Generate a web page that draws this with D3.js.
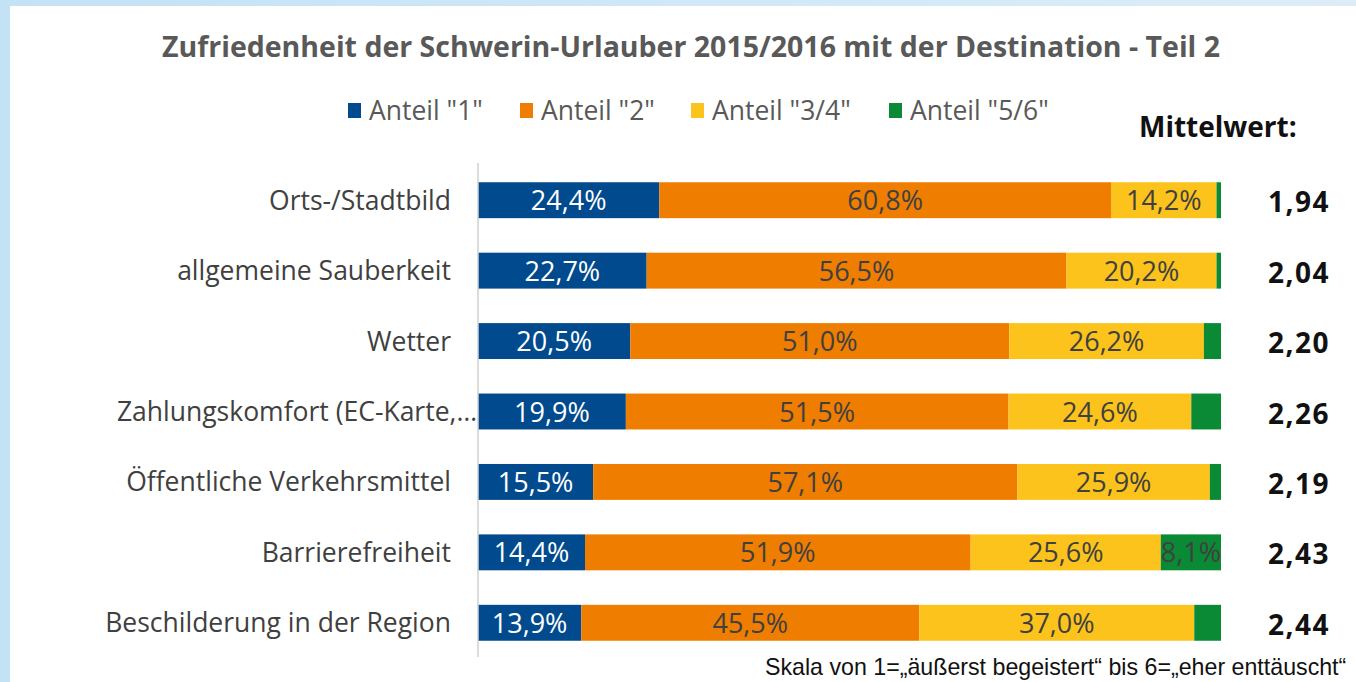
<!DOCTYPE html>
<html lang="de">
<head>
<meta charset="utf-8">
<script src="https://cdn.jsdelivr.net/npm/d3@7"></script>
<style>
  html, body { margin: 0; padding: 0; background: #fff; overflow: hidden; }
  svg { display: block; }
</style>
</head>
<body>
<svg id="chart" width="1356" height="682"></svg>
<script>
// Kategorien (von oben nach unten)
const categories = [
  "Orts-/Stadtbild",
  "allgemeine Sauberkeit",
  "Wetter",
  "Zahlungskomfort (EC-Karte,\u2026",
  "\u00d6ffentliche Verkehrsmittel",
  "Barrierefreiheit",
  "Beschilderung in der Region"
];

// Anteile in Prozent je Bewertungsgruppe
const anteil1  = [24.4, 22.7, 20.5, 19.9, 15.5, 14.4, 13.9];
const anteil2  = [60.8, 56.5, 51.0, 51.5, 57.1, 51.9, 45.5];
const anteil34 = [14.2, 20.2, 26.2, 24.6, 25.9, 25.6, 37.0];
const anteil56 = [0.6, 0.6, 2.3, 4.0, 1.5, 8.1, 3.6];

// Mittelwerte je Kategorie
const mittelwerte = ["1,94", "2,04", "2,20", "2,26", "2,19", "2,43", "2,44"];

const seriesNames = ['Anteil "1"', 'Anteil "2"', 'Anteil "3/4"', 'Anteil "5/6"'];
const seriesColors = ["#004a8d", "#ef7d00", "#fbc31c", "#0a8a35"];
const labelColors = ["#ffffff", "#404040", "#404040", "#404040"];

const title = "Zufriedenheit der Schwerin-Urlauber 2015/2016 mit der Destination - Teil 2";
const meanHeader = "Mittelwert:";
const footnote = "Skala von 1=\u201e\u00e4u\u00dferst begeistert\u201c bis 6=\u201eeher entt\u00e4uscht\u201c";

const fmt = v => v.toFixed(1).replace(".", ",") + "%";

const rows = categories.map((c, i) => ({
  cat: c,
  vals: [anteil1[i], anteil2[i], anteil34[i], anteil56[i]],
  mean: mittelwerte[i]
}));

const svg = d3.select("#chart");
const W = 1356, H = 682;
const FONT = "'Open Sans', Lato, sans-serif";

// Rahmen mit hellblauem Rand
const defs = svg.append("defs");
const grad = defs.append("linearGradient").attr("id", "frame").attr("x1", 0).attr("y1", 0).attr("x2", 1).attr("y2", 0);
grad.append("stop").attr("offset", "0%").attr("stop-color", "#c3e2f6");
grad.append("stop").attr("offset", "100%").attr("stop-color", "#dcedf8");
svg.append("rect").attr("width", W).attr("height", H).attr("fill", "url(#frame)");
svg.append("rect").attr("x", 10).attr("y", 6).attr("width", W - 10).attr("height", H - 6).attr("fill", "#ffffff");

const x = d3.scaleLinear().domain([0, 100]).range([478, 1221]);
const y = d3.scaleBand().domain(categories).range([165, 658]).paddingInner(0.49).paddingOuter(0.245);

// Titel
svg.append("text")
  .attr("x", 691).attr("y", 57)
  .attr("text-anchor", "middle")
  .attr("font-family", FONT)
  .attr("font-weight", 700)
  .attr("font-size", 28.5)
  .attr("fill", "#595959")
  .text(title);

// Legende
const legendX = [348, 520, 691, 889];
const legend = svg.append("g").selectAll("g")
  .data(seriesNames)
  .join("g")
  .attr("transform", (d, i) => `translate(${legendX[i]},0)`);
legend.append("rect")
  .attr("x", 0).attr("y", 103).attr("width", 13).attr("height", 15)
  .attr("fill", (d, i) => seriesColors[i]);
legend.append("text")
  .attr("x", 21).attr("y", 120)
  .attr("font-family", FONT)
  .attr("font-size", 26.5)
  .attr("fill", "#595959")
  .text(d => d);

// Überschrift Mittelwert
svg.append("text")
  .attr("x", 1139).attr("y", 137)
  .attr("font-family", FONT)
  .attr("font-weight", 700)
  .attr("font-size", 28)
  .attr("fill", "#111111")
  .text(meanHeader);

// Gestapelte Balken
const stack = rows.map(r => {
  let acc = 0;
  return r.vals.map((v, k) => {
    const seg = { cat: r.cat, k, v, x0: acc, x1: acc + v };
    acc += v;
    return seg;
  });
});

const barG = svg.append("g");
const rowG = barG.selectAll("g.row")
  .data(stack)
  .join("g")
  .attr("class", "row");

rowG.selectAll("rect")
  .data(d => d)
  .join("rect")
  .attr("x", d => x(d.x0))
  .attr("y", d => y(d.cat))
  .attr("width", d => x(d.x1) - x(d.x0))
  .attr("height", y.bandwidth())
  .attr("fill", d => seriesColors[d.k]);

rowG.selectAll("text")
  .data(d => d.filter(s => s.v >= 5))
  .join("text")
  .attr("x", d => (x(d.x0) + x(d.x1)) / 2)
  .attr("y", d => y(d.cat) + y.bandwidth() / 2 + 10)
  .attr("text-anchor", "middle")
  .attr("font-family", FONT)
  .attr("font-size", 27)
  .attr("fill", d => labelColors[d.k])
  .text(d => fmt(d.v));

// Achsenlinie
svg.append("line")
  .attr("x1", 478).attr("x2", 478)
  .attr("y1", 163).attr("y2", 657)
  .attr("stroke", "#d0d0d0").attr("stroke-width", 1.5);

// Kategorienbeschriftung
svg.append("g").selectAll("text")
  .data(categories)
  .join("text")
  .attr("x", d => d.endsWith("\u2026") ? 477 : 451)
  .attr("y", d => y(d) + y.bandwidth() / 2 + 9.5)
  .attr("text-anchor", "end")
  .attr("font-family", FONT)
  .attr("font-size", 26.5)
  .attr("fill", "#404040")
  .text(d => d);

// Mittelwerte
svg.append("g").selectAll("text")
  .data(rows)
  .join("text")
  .attr("x", 1330)
  .attr("y", d => y(d.cat) + y.bandwidth() / 2 + 12)
  .attr("text-anchor", "end")
  .attr("font-family", FONT)
  .attr("font-weight", 700)
  .attr("font-size", 28)
  .attr("letter-spacing", 1.5)
  .attr("fill", "#111111")
  .text(d => d.mean);

// Fußnote
svg.append("text")
  .attr("x", 765).attr("y", 675)
  .attr("font-family", "'Liberation Sans', Arial, sans-serif")
  .attr("font-size", 23.2)
  .attr("fill", "#111111")
  .text(footnote);
</script>
</body>
</html>
